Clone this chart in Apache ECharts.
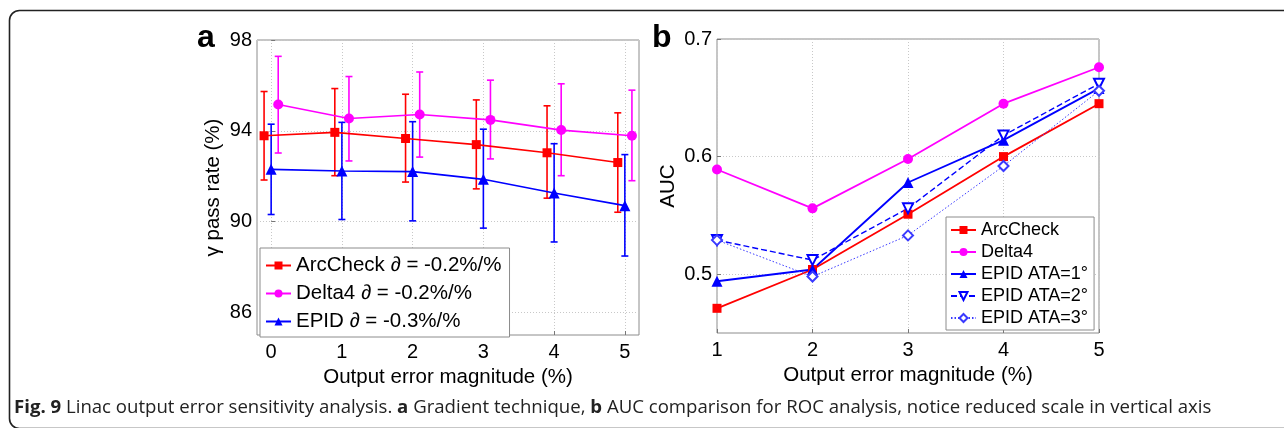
<!DOCTYPE html>
<html>
<head>
<meta charset="utf-8">
<script src="https://cdn.jsdelivr.net/npm/echarts@6/dist/echarts.min.js"></script>
<style>html,body{margin:0;padding:0;background:#fff}#c{width:1284px;height:428px}</style>
</head>
<body>
<div id="c"></div>
<script>
// ---------- Panel a data ----------
const xA = [0, 1, 2, 3, 4, 5];
const yTicksA = [86, 90, 94, 98];
const xTicksA = [0, 1, 2, 3, 4, 5];
const arcA    = [93.78, 93.93, 93.66, 93.39, 93.03, 92.60];
const arcAHi  = [95.73, 95.86, 95.61, 95.36, 95.10, 94.79];
const arcALo  = [91.83, 92.02, 91.74, 91.44, 91.03, 90.41];
const deltaA   = [95.16, 94.54, 94.72, 94.48, 94.03, 93.78];
const deltaAHi = [97.28, 96.39, 96.59, 96.23, 96.07, 95.79];
const deltaALo = [93.02, 92.67, 92.84, 92.76, 92.02, 91.80];
const epidA   = [92.30, 92.23, 92.20, 91.86, 91.26, 90.70];
const epidAHi = [94.29, 94.37, 94.40, 94.07, 93.43, 92.95];
const epidALo = [90.31, 90.09, 90.03, 89.71, 89.10, 88.48];
const namesA = ['ArcCheck \u2202 = -0.2%/%', 'Delta4 \u2202 = -0.2%/%', 'EPID \u2202 = -0.3%/%'];

// ---------- Panel b data ----------
const xB = [1, 2, 3, 4, 5];
const yTicksB = [0.5, 0.6, 0.7];
const xTicksB = [1, 2, 3, 4, 5];
const arcB   = [0.471, 0.504, 0.551, 0.600, 0.645];
const deltaB = [0.589, 0.556, 0.598, 0.645, 0.676];
const ata1B  = [0.494, 0.504, 0.578, 0.614, 0.658];
const ata2B  = [0.529, 0.512, 0.556, 0.618, 0.662];
const ata3B  = [0.529, 0.498, 0.533, 0.592, 0.656];
const namesB = ['ArcCheck', 'Delta4', 'EPID ATA=1\u00b0', 'EPID ATA=2\u00b0', 'EPID ATA=3\u00b0'];

const RED = '#ff0000', MAG = '#ff00ff', BLUE = '#0000ff';
const FONT = "'Liberation Sans', Arial, Helvetica, sans-serif";
const OFFS = [-0.1, 0.1, 0]; // horizontal dodge of the three devices in panel a

const chart = echarts.init(document.getElementById('c'), null, {renderer: 'canvas'});

function pairs(xs, ys, off) { return xs.map((x, i) => [x + (off || 0), ys[i]]); }
function errData(xs, lo, hi, off) { return xs.map((x, i) => [x + off, lo[i], hi[i]]); }

function errSeries(data, color) {
  return {
    type: 'custom', xAxisIndex: 0, yAxisIndex: 0, silent: true, z: 2,
    data: data,
    encode: {x: 0, y: [1, 2]},
    renderItem: function (params, api) {
      const x = api.value(0);
      const lo = api.coord([x, api.value(1)]);
      const hi = api.coord([x, api.value(2)]);
      const w = 3.5;
      const st = {stroke: color, lineWidth: 1.6, fill: null};
      return {type: 'group', children: [
        {type: 'line', shape: {x1: lo[0], y1: lo[1], x2: hi[0], y2: hi[1]}, style: st},
        {type: 'line', shape: {x1: lo[0] - w, y1: lo[1], x2: lo[0] + w, y2: lo[1]}, style: st},
        {type: 'line', shape: {x1: hi[0] - w, y1: hi[1], x2: hi[0] + w, y2: hi[1]}, style: st}
      ]};
    }
  };
}

function valAxis(gi, min, max, ticks, extra) {
  return Object.assign({
    type: 'value', gridIndex: gi, min: min, max: max,
    axisLine: {show: false},
    axisTick: {show: true, inside: true, length: 4, customValues: ticks, lineStyle: {color: '#777'}},
    axisLabel: {customValues: ticks, color: '#000', fontFamily: FONT, fontSize: 20},
    splitLine: {show: true, lineStyle: {color: '#c8c8c8', type: [1, 2], width: 1}},
    nameLocation: 'middle',
    nameTextStyle: {color: '#000', fontFamily: FONT, fontSize: 20.5}
  }, extra);
}

const option = {
  backgroundColor: '#fff',
  animation: false,
  textStyle: {fontFamily: FONT},
  grid: [
    {left: 257, top: 40, width: 382, height: 295, show: true, borderColor: '#8c8c8c', borderWidth: 1},
    {left: 717, top: 39, width: 382, height: 294, show: true, borderColor: '#8c8c8c', borderWidth: 1}
  ],
  xAxis: [
    valAxis(0, -0.2, 5.2, xTicksA, {name: 'Output error magnitude (%)', nameGap: 24, axisLabel: {customValues: xTicksA, color: '#000', fontFamily: FONT, fontSize: 20, margin: 7}}),
    valAxis(1, 1, 5, xTicksB, {name: 'Output error magnitude (%)', nameGap: 25, axisLabel: {customValues: xTicksB, color: '#000', fontFamily: FONT, fontSize: 20, margin: 7}})
  ],
  yAxis: [
    valAxis(0, 85, 98, yTicksA, {name: '\u03b3 pass rate (%)', nameGap: 33, axisLabel: {customValues: yTicksA, color: '#000', fontFamily: FONT, fontSize: 20, margin: 5}}),
    valAxis(1, 0.45, 0.7, yTicksB, {name: 'AUC', nameGap: 38, axisLabel: {customValues: yTicksB, color: '#000', fontFamily: FONT, fontSize: 20, margin: 5, formatter: v => v.toFixed(1)}})
  ],
  legend: [
    {
      data: namesA, orient: 'vertical', left: 260, top: 248,
      itemWidth: 25, itemHeight: 10, itemGap: 7,
      padding: [7, 8, 5, 5], backgroundColor: '#fff', borderColor: '#8c8c8c', borderWidth: 1,
      textStyle: {fontFamily: FONT, fontSize: 20.5, color: '#000', lineHeight: 20}
    },
    {
      data: namesB, orient: 'vertical', left: 946, top: 217,
      itemWidth: 25, itemHeight: 10, itemGap: 4,
      padding: [4, 6, 3, 4], backgroundColor: '#fff', borderColor: '#8c8c8c', borderWidth: 1,
      textStyle: {fontFamily: FONT, fontSize: 18, color: '#000', lineHeight: 18}
    }
  ],
  series: [
    errSeries(errData(xA, arcALo, arcAHi, OFFS[0]), RED),
    errSeries(errData(xA, deltaALo, deltaAHi, OFFS[1]), MAG),
    errSeries(errData(xA, epidALo, epidAHi, OFFS[2]), BLUE),
    {name: namesA[0], type: 'line', xAxisIndex: 0, yAxisIndex: 0, data: pairs(xA, arcA, OFFS[0]), color: RED,
      symbol: 'rect', symbolSize: 9, lineStyle: {width: 1.6}, z: 3},
    {name: namesA[1], type: 'line', xAxisIndex: 0, yAxisIndex: 0, data: pairs(xA, deltaA, OFFS[1]), color: MAG,
      symbol: 'circle', symbolSize: 10, lineStyle: {width: 1.6}, z: 3},
    {name: namesA[2], type: 'line', xAxisIndex: 0, yAxisIndex: 0, data: pairs(xA, epidA, OFFS[2]), color: BLUE,
      symbol: 'triangle', symbolSize: 11, lineStyle: {width: 1.6}, z: 3},

    {name: namesB[0], type: 'line', xAxisIndex: 1, yAxisIndex: 1, data: pairs(xB, arcB), color: RED,
      symbol: 'rect', symbolSize: 9, lineStyle: {width: 1.8}, z: 3},
    {name: namesB[1], type: 'line', xAxisIndex: 1, yAxisIndex: 1, data: pairs(xB, deltaB), color: MAG,
      symbol: 'circle', symbolSize: 10, lineStyle: {width: 1.8}, z: 3},
    {name: namesB[2], type: 'line', xAxisIndex: 1, yAxisIndex: 1, data: pairs(xB, ata1B), color: BLUE,
      symbol: 'triangle', symbolSize: 11, lineStyle: {width: 1.8}, z: 3},
    {name: namesB[3], type: 'line', xAxisIndex: 1, yAxisIndex: 1, data: pairs(xB, ata2B), color: BLUE,
      symbol: 'emptyTriangle', symbolRotate: 180, symbolSize: 10, itemStyle: {borderWidth: 1.4},
      lineStyle: {width: 1.4, type: [6, 3]}, z: 3},
    {name: namesB[4], type: 'line', xAxisIndex: 1, yAxisIndex: 1, data: pairs(xB, ata3B), color: '#3a3aff',
      symbol: 'emptyDiamond', symbolSize: 10, itemStyle: {borderWidth: 1.3},
      lineStyle: {width: 1, type: [1.5, 2]}, z: 3}
  ],
  graphic: [
    {type: 'rect', silent: true, shape: {x: 9.5, y: 10.5, width: 1400, height: 418, r: 10},
      style: {stroke: '#222', lineWidth: 1.6, fill: null}},
    {type: 'text', left: 197, top: 22, style: {text: 'a', font: "bold 32px 'Liberation Sans', Arial, sans-serif", fill: '#000'}},
    {type: 'text', left: 652, top: 22, style: {text: 'b', font: "bold 32px 'Liberation Sans', Arial, sans-serif", fill: '#000'}},
    {type: 'text', x: 14, y: 408, style: {
      text: '{b|Fig. 9} Linac output error sensitivity analysis. {b|a} Gradient technique, {b|b} AUC comparison for ROC analysis, notice reduced scale in vertical axis',
      fontFamily: 'Open Sans', fontSize: 18.6, fill: '#222', verticalAlign: 'middle',
      rich: {b: {fontFamily: 'Open Sans', fontWeight: 'bold', fontSize: 18.6, fill: '#222'}}
    }}
  ]
};
chart.setOption(option);
</script>
</body>
</html>
